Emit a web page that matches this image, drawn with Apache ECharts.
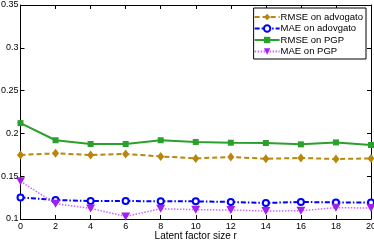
<!DOCTYPE html>
<html><head><meta charset="utf-8">
<script src="https://cdn.jsdelivr.net/npm/echarts@6/dist/echarts.min.js"></script>
<style>html,body{margin:0;padding:0;background:#fff}#c{width:374px;height:243px}</style>
</head><body><div id="c"></div>
<script>
var xValues = [0, 2, 4, 6, 8, 10, 12, 14, 16, 18, 20];
var rmseAdvogato = [0.1748, 0.1767, 0.1748, 0.176, 0.1731, 0.1708, 0.1724, 0.1704, 0.1713, 0.1701, 0.1708];
var maeAdvogato = [0.1252, 0.1222, 0.121, 0.121, 0.1206, 0.1206, 0.1199, 0.1187, 0.1199, 0.1194, 0.1194];
var rmsePGP = [0.212, 0.192, 0.1876, 0.1876, 0.192, 0.190, 0.1891, 0.1888, 0.1872, 0.1895, 0.1864];
var maePGP = [0.144, 0.1179, 0.1124, 0.103, 0.112, 0.1109, 0.1105, 0.1093, 0.1097, 0.1132, 0.1128];
var seriesNames = ['RMSE on advogato', 'MAE on adovgato', 'RMSE on PGP', 'MAE on PGP'];
var xAxisTitle = 'Latent factor size r';

function pairs(v){ return xValues.map(function(x,i){ return [x, v[i]]; }); }
var font = 'Liberation Sans, Arial, sans-serif';
var chart = echarts.init(document.getElementById('c'), null, {renderer:'canvas'});
var tickStyle = {show:true, inside:true, length:4, lineStyle:{color:'#000', width:1}};
chart.setOption({
  animation:false,
  backgroundColor:'#fff',
  grid:{left:20.5, right:3, top:5, bottom:24, containLabel:false, outerBoundsMode:'none'},
  xAxis:[{
    type:'value', min:0, max:20, interval:2, position:'bottom',
    name:xAxisTitle, nameLocation:'middle', nameGap:12, nameMoveOverlap:false,
    nameTextStyle:{fontFamily:font, fontSize:10, color:'#000'},
    axisLine:{show:true, onZero:false, lineStyle:{color:'#000', width:1}},
    axisTick:tickStyle,
    axisLabel:{fontFamily:font, fontSize:9, color:'#000', margin:3},
    splitLine:{show:false}
  },{
    type:'value', min:0, max:20, interval:2, position:'top',
    axisLine:{show:true, onZero:false, lineStyle:{color:'#000', width:1}},
    axisTick:tickStyle, axisLabel:{show:false}, splitLine:{show:false}
  }],
  yAxis:[{
    type:'value', min:0.1, max:0.35, interval:0.05, position:'left',
    axisLine:{show:true, onZero:false, lineStyle:{color:'#000', width:1}},
    axisTick:tickStyle,
    axisLabel:{fontFamily:font, fontSize:9, color:'#000', margin:2},
    splitLine:{show:false}
  },{
    type:'value', min:0.1, max:0.35, interval:0.05, position:'right',
    axisLine:{show:true, onZero:false, lineStyle:{color:'#000', width:1}},
    axisTick:tickStyle, axisLabel:{show:false}, splitLine:{show:false}
  }],
  legend:{
    orient:'vertical', right:8, top:8,
    backgroundColor:'#fff', borderColor:'#000', borderWidth:1, borderRadius:0,
    padding:[3.5,3,2,0], itemGap:0.5, itemWidth:25, itemHeight:8,
    textStyle:{fontFamily:font, fontSize:9.5, lineHeight:11, color:'#000', padding:[0,0,0,-4]},
    data:seriesNames
  },
  series:[
    {name:seriesNames[0], type:'line', data:pairs(rmseAdvogato), symbol:'diamond', symbolSize:[7,9],
     itemStyle:{color:'#b8860b'}, lineStyle:{color:'#b8860b', width:2, type:[5,3]}},
    {name:seriesNames[1], type:'line', data:pairs(maeAdvogato), symbol:'emptyCircle', symbolSize:6,
     itemStyle:{color:'#0000ff', borderWidth:3}, lineStyle:{color:'#0000ff', width:2, type:[5,2,1.5,2]}},
    {name:seriesNames[2], type:'line', data:pairs(rmsePGP), symbol:'rect', symbolSize:6,
     itemStyle:{color:'#2ca02c'}, lineStyle:{color:'#2ca02c', width:2}},
    {name:seriesNames[3], type:'line', data:pairs(maePGP), symbol:'triangle', symbolRotate:180, symbolSize:[9,8],
     itemStyle:{color:'#a020f0'}, lineStyle:{color:'#cc66ff', width:1.5, type:[1.5,1.5]}}
  ]
});
</script></body></html>
